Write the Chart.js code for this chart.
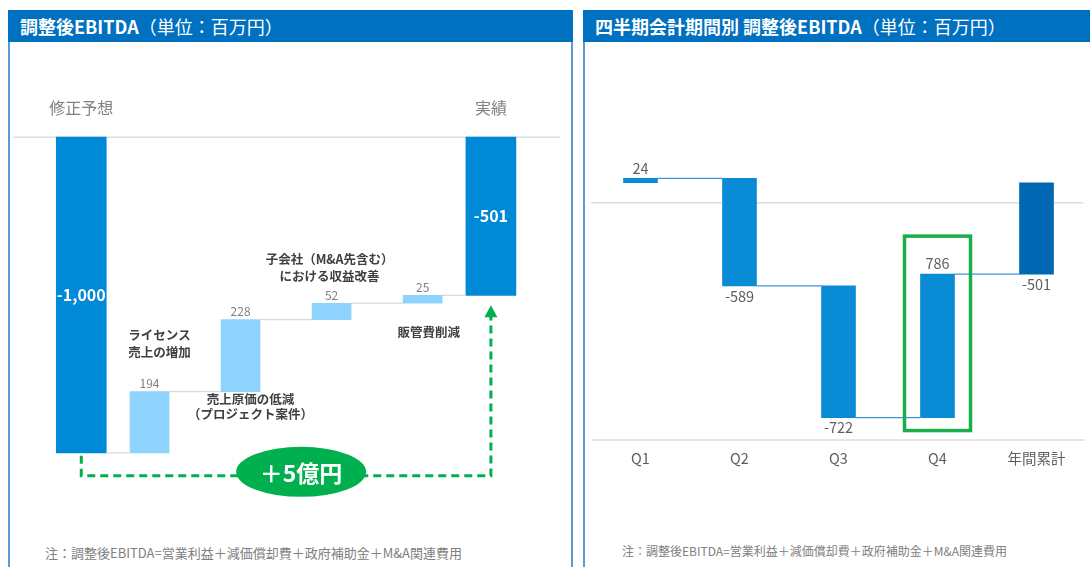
<!DOCTYPE html>
<html><head><meta charset="utf-8">
<script src="https://cdn.jsdelivr.net/npm/chart.js@4.4.0/dist/chart.umd.min.js"></script>
<style>
html,body{margin:0;padding:0;background:#fff;width:1090px;height:567px;overflow:hidden;font-family:"Noto Sans CJK JP","Noto Sans",sans-serif;}
.panel{position:absolute;top:10px;height:600px;border:2px solid #5b9bd5;box-sizing:border-box;}
#pl{left:8px;width:565px;}
#pr{left:583px;width:530px;}
.hdr{position:absolute;left:-2px;top:-2px;right:-2px;height:32px;background:#0070c0;color:#fff;font-size:18px;line-height:32px;padding-left:12px;white-space:nowrap;}
.hdr b{font-weight:700}
.hdr span{font-weight:400}
.note{position:absolute;color:#808080;white-space:nowrap;}
canvas{position:absolute;}
</style></head>
<body>
<div class="panel" id="pl"><div class="hdr"><b>調整後EBITDA</b><span>（単位：百万円）</span></div></div>
<div class="panel" id="pr"><div class="hdr"><b>四半期会計期間別 調整後EBITDA</b><span>（単位：百万円）</span></div></div>
<canvas id="cl" width="553" height="442" style="left:13px;top:74px;width:553px;height:442px"></canvas>
<canvas id="cr" width="495" height="420" style="left:591px;top:55px;width:495px;height:420px"></canvas>
<div class="note" style="left:45px;top:543px;font-size:13px">注：調整後EBITDA=営業利益＋減価償却費＋政府補助金＋M&amp;A関連費用</div>
<div class="note" style="left:622px;top:542px;font-size:12px">注：調整後EBITDA=営業利益＋減価償却費＋政府補助金＋M&amp;A関連費用</div>
<script>
// ---- data: left waterfall ----
const wfEndLabels = ['修正予想', '実績'];
const wfStart = -1000;
const wfDeltas = [194, 228, 52, 25];
const wfEnd = -501;
const wfDeltaNames = [['ライセンス','売上の増加'], ['売上原価の低減','（プロジェクト案件）'], ['子会社（M&A先含む）','における収益改善'], ['販管費削減']];
const wfGainLabel = '＋5億円';

// ---- data: right quarterly waterfall ----
const qLabels = ['Q1','Q2','Q3','Q4','年間累計'];
const qValues = [24, -589, -722, 786];
const qTotal = -501;

const FONT = '"Noto Sans CJK JP","Noto Sans",sans-serif';
const fmt = v => v.toLocaleString('en-US');

// ---------- left chart ----------
const slotPos = [0, 3, 7, 11, 15, 18];
let run = wfStart;
const wfLevels = [wfStart];
const deltaBars = wfDeltas.map((d, i) => { const a = run; run += d; wfLevels.push(run); return {x: slotPos[i + 1], y: [a, run]}; });
const totalBars = [{x: slotPos[0], y: [0, wfStart]}, {x: slotPos[5], y: [0, wfEnd]}];

const leftDeco = {
  id: 'leftDeco',
  beforeDatasetsDraw(chart) {
    const {ctx, chartArea, scales: {y}} = chart;
    const y0 = y.getPixelForValue(0);
    ctx.save();
    ctx.strokeStyle = '#dedede'; ctx.lineWidth = 1.5;
    ctx.beginPath(); ctx.moveTo(chartArea.left, y0); ctx.lineTo(chartArea.right - 6, y0); ctx.stroke();
    ctx.restore();
  },
  afterDatasetsDraw(chart) {
    const {ctx, scales: {y}} = chart;
    const m0 = chart.getDatasetMeta(0), m1 = chart.getDatasetMeta(1);
    const els = [m0.data[0], ...m1.data, m0.data[1]];
    const top = e => Math.min(e.y, e.base), bot = e => Math.max(e.y, e.base);
    ctx.save();
    // connectors
    ctx.strokeStyle = '#d9d9d9'; ctx.lineWidth = 1.2;
    for (let i = 0; i < els.length - 1; i++) {
      const lv = y.getPixelForValue(i < wfLevels.length ? wfLevels[i] : wfEnd);
      ctx.beginPath(); ctx.moveTo(els[i].x + els[i].width / 2, lv); ctx.lineTo(els[i + 1].x - els[i + 1].width / 2, lv); ctx.stroke();
    }
    // top labels
    ctx.fillStyle = '#808080'; ctx.font = '16px ' + FONT; ctx.textAlign = 'center'; ctx.textBaseline = 'middle';
    const y0 = y.getPixelForValue(0);
    ctx.fillText(wfEndLabels[0], els[0].x, y0 - 29);
    ctx.fillText(wfEndLabels[1], els[5].x, y0 - 29);
    // total values
    ctx.fillStyle = '#ffffff'; ctx.font = 'bold 16px ' + FONT;
    ctx.fillText(fmt(wfStart), els[0].x, (top(els[0]) + bot(els[0])) / 2);
    ctx.fillText(fmt(wfEnd), els[5].x, (top(els[5]) + bot(els[5])) / 2);
    // delta values
    ctx.fillStyle = '#808080'; ctx.font = '12px ' + FONT; ctx.textBaseline = 'bottom';
    wfDeltas.forEach((d, i) => { const e = els[i + 1]; ctx.fillText(fmt(d), e.x, top(e) - 2); });
    // category names
    ctx.fillStyle = '#404040'; ctx.font = 'bold 12.5px ' + FONT; ctx.textBaseline = 'middle';
    const e1 = els[1], e2 = els[2], e3 = els[3], e4 = els[4];
    ctx.fillText(wfDeltaNames[0][0], e1.x + 10, top(e1) - 56);
    ctx.fillText(wfDeltaNames[0][1], e1.x + 10, top(e1) - 39);
    ctx.fillText(wfDeltaNames[1][0], e2.x + 10, bot(e2) + 8);
    ctx.fillText(wfDeltaNames[1][1], e2.x + 10, bot(e2) + 23);
    ctx.fillText(wfDeltaNames[2][0], e3.x - 2, top(e3) - 44);
    ctx.fillText(wfDeltaNames[2][1], e3.x - 2, top(e3) - 27);
    ctx.fillText(wfDeltaNames[3][0], e4.x + 6, bot(e4) + 29);
    // green dashed arrow
    const green = '#00b04f';
    const x1 = els[0].x, x2 = els[5].x;
    const yH = bot(els[0]) + 23;
    const tip = bot(els[5]) + 10;
    ctx.strokeStyle = green; ctx.lineWidth = 3; ctx.setLineDash([8, 5]);
    ctx.beginPath(); ctx.moveTo(x1, bot(els[0]) + 3); ctx.lineTo(x1, yH); ctx.lineTo(x2, yH); ctx.lineTo(x2, tip + 11); ctx.stroke();
    ctx.setLineDash([]);
    ctx.fillStyle = green;
    ctx.beginPath(); ctx.moveTo(x2, tip); ctx.lineTo(x2 - 6.5, tip + 12); ctx.lineTo(x2 + 6.5, tip + 12); ctx.closePath(); ctx.fill();
    // ellipse
    const cx = (x1 + x2) / 2 + 15, cy = yH - 4;
    ctx.beginPath(); ctx.ellipse(cx, cy, 65, 25, 0, 0, Math.PI * 2); ctx.fill();
    ctx.fillStyle = '#ffffff'; ctx.font = 'bold 23px ' + FONT; ctx.textBaseline = 'middle';
    ctx.fillText(wfGainLabel, cx, cy + 1);
    ctx.restore();
  }
};

new Chart(document.getElementById('cl'), {
  type: 'bar',
  data: {datasets: [
    {data: totalBars, backgroundColor: '#0089d6', barThickness: 50, maxBarThickness: 50, grouped: false},
    {data: deltaBars, backgroundColor: '#8dd3fd', barThickness: 39, maxBarThickness: 39, grouped: false}
  ]},
  options: {
    responsive: false, animation: false, devicePixelRatio: 1,
    layout: {padding: 0},
    plugins: {legend: {display: false}, tooltip: {enabled: false}},
    scales: {
      x: {type: 'linear', min: -3, max: 21.3, offset: false, display: false},
      y: {min: -1200, max: 200, display: false}
    }
  },
  plugins: [leftDeco]
});

// ---------- right chart ----------
const qGridValue = -110;
let qr = 0;
const qLevels = [];
const qBars = qValues.map(v => { const a = qr; qr += v; qLevels.push(qr); return [a, qr]; });
qBars.push([0, qTotal]);
const qColors = qBars.map((b, i) => i === qBars.length - 1 ? '#0068b3' : '#0a8bd6');
const qText = [...qValues, qTotal];

const rightDeco = {
  id: 'rightDeco',
  beforeDatasetsDraw(chart) {
    const {ctx, chartArea, scales: {y}} = chart;
    ctx.save();
    ctx.strokeStyle = '#dcdcdc'; ctx.lineWidth = 1.5;
    const gy = y.getPixelForValue(qGridValue);
    ctx.beginPath(); ctx.moveTo(chartArea.left - 3, gy); ctx.lineTo(chartArea.right - 3, gy); ctx.stroke();
    ctx.beginPath(); ctx.moveTo(chartArea.left + 1, chartArea.bottom); ctx.lineTo(chartArea.right - 1, chartArea.bottom); ctx.stroke();
    ctx.restore();
  },
  afterDatasetsDraw(chart) {
    const {ctx, chartArea, scales: {y}} = chart;
    const els = chart.getDatasetMeta(0).data;
    const top = e => Math.min(e.y, e.base), bot = e => Math.max(e.y, e.base);
    ctx.save();
    ctx.strokeStyle = '#3d95d6'; ctx.lineWidth = 1.3;
    for (let i = 0; i < els.length - 1; i++) {
      const lv = y.getPixelForValue(qLevels[i]);
      ctx.beginPath(); ctx.moveTo(els[i].x + els[i].width / 2, lv); ctx.lineTo(els[i + 1].x - els[i + 1].width / 2, lv); ctx.stroke();
    }
    ctx.fillStyle = '#5f5f5f'; ctx.font = '14.5px ' + FONT; ctx.textAlign = 'center';
    qText.forEach((v, i) => {
      const e = els[i];
      if (v > 0) { ctx.textBaseline = 'bottom'; ctx.fillText(fmt(v), e.x, top(e) - 3); }
      else { ctx.textBaseline = 'top'; ctx.fillText(fmt(v), e.x, bot(e) + 3); }
    });
    ctx.textBaseline = 'middle';
    qLabels.forEach((l, i) => ctx.fillText(l, els[i].x, chartArea.bottom + 18));
    // highlight box around Q4
    const e4 = els[3];
    ctx.strokeStyle = '#1aae4b'; ctx.lineWidth = 3.5;
    ctx.strokeRect(e4.x - 33, top(e4) - 38, 66, bot(e4) - top(e4) + 51);
    ctx.restore();
  }
};

new Chart(document.getElementById('cr'), {
  type: 'bar',
  data: {labels: qLabels, datasets: [{data: qBars, backgroundColor: qColors, barThickness: 34}]},
  options: {
    responsive: false, animation: false, devicePixelRatio: 1,
    layout: {padding: {left: 0, right: 0, top: 0, bottom: 35}},
    plugins: {legend: {display: false}, tooltip: {enabled: false}},
    scales: {
      x: {display: false},
      y: {min: -1410, max: 700, display: false}
    }
  },
  plugins: [rightDeco]
});
</script>
</body></html>
